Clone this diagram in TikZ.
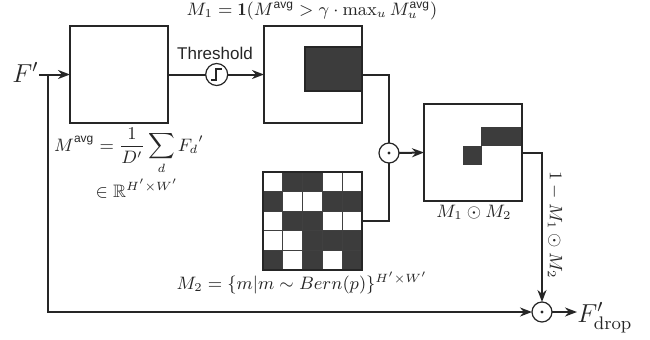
\RequirePackage{fix-cm}
\documentclass[tikz,border=0pt]{standalone}
\usepackage{amsmath,amssymb}
\usepackage{fontspec}
\newfontfamily\thrfont{Liberation Sans}
\usetikzlibrary{arrows.meta}
\definecolor{ln}{HTML}{262626}
\definecolor{dk}{HTML}{3C3C3C}
\newcommand{\avg}{\text{\thrfont avg}}
\begin{document}
\begin{tikzpicture}[x=0.5pt,y=-0.5pt,
  box/.style={draw=ln, line width=1pt, fill=white, inner sep=0pt, outer sep=0pt, minimum width=49pt, minimum height=48.5pt},
  conn/.style={draw=ln, line width=1pt},
  arr/.style={conn, -{Stealth[length=6pt,width=4.5pt]}},
  opc/.style={circle, draw=ln, line width=0.6pt, minimum size=10pt, inner sep=0pt, outer sep=0pt, fill=white},
  lbl/.style={font=\fontsize{9}{11}\selectfont, inner sep=0pt, text=ln},
  big/.style={font=\fontsize{13}{15}\selectfont, inner sep=0pt, text=ln},
  darkcell/.style={fill=dk, draw=dk, line width=0.4pt}]
\useasboundingbox (0,0) rectangle (650,339);

% boxes
\node[box] (b1) at (119,74.5) {};
\node[box] (b2) at (313,74.5) {};
\filldraw[darkcell, draw=ln, line width=0.6pt] (305,47) rectangle (362,91);
\draw[line width=1pt, draw=ln] (b2.north west) rectangle (b2.south east);
\node[box] (b3) at (473,152.5) {};
\fill[dk] (481,127) rectangle (522,146);
\fill[dk] (463,146) rectangle (482,165);
\draw[line width=1pt, draw=ln] (b3.north west) rectangle (b3.south east);

% random grid
\node[box, draw=none, minimum width=49.5pt, minimum height=49pt] (grid) at (312.5,221) {};
\foreach \c/\r in {1/0,2/0,0/1,3/1,4/1,1/2,2/2,2/3,3/3,4/3,0/4,2/4,4/4}
  \fill[dk] (263+\c*19.8,172+\r*19.6) rectangle ++(19.8,19.6);
\foreach \k in {1,2,3,4} {
  \draw[black!75, line width=0.45pt] (263+\k*19.8,172) -- (263+\k*19.8,270);
  \draw[black!75, line width=0.45pt] (263,172+\k*19.6) -- (362,172+\k*19.6);
}
\draw[line width=1.2pt, draw=ln] (grid.north west) rectangle (grid.south east);

% operator circles
\node[opc, minimum size=11pt] (th) at (216.7,74.5) {};
\draw[line width=0.8pt, draw=ln] ([shift={(-2.6pt,-2.6pt)}]th.center) -- ++(2.3pt,0pt) -- ++(0pt,5.4pt) -- ++(2.9pt,0pt);
\node[opc] (o1) at (389,153) {};
\fill[ln] (o1.center) circle (1.6);
\node[opc] (o2) at (542,312) {};
\fill[ln] (o2.center) circle (1.6);

% texts
\node[big, anchor=base west] (Fp) at (12,82) {$F'$};
\node[big, anchor=base west] (drop) at (577,322) {$F'_{\mathrm{drop}}$};
\node[font=\thrfont\fontsize{8.5}{10}\selectfont, text=ln, inner sep=0pt] (thl) at (215,53) {Threshold};
\node[lbl] (m1) at (312,11) {$M_1=\mathbf{1}(M^{\avg}>\gamma\cdot\max\nolimits_u M_u^{\avg})$};
\node[lbl] (mavg) at (129,151) {$\displaystyle M^{\avg}=\frac{1}{D'}\sum_d F_d{}'$};
\node[lbl] (inR) at (137,189) {$\in\mathbb{R}^{H'\times W'}$};
\node[lbl] (m2) at (302,283) {$M_2=\{m|m\sim Bern(p)\}^{H'\times W'}$};
\node[lbl] (m12) at (474,212) {$M_1\odot M_2$};
\node[lbl, rotate=-90] (inv) at (555,225) {$1-M_1\odot M_2$};

% connectors
\coordinate (br) at (48,74.5);
\draw[arr] (Fp.east |- b1.west) -- (b1.west);
\draw[arr] (br) |- (o2.west);
\draw[conn] (b1.east) -- (th.west);
\draw[arr] (th.east) -- (b2.west);
\draw[conn] (b2.east) -| (o1.north);
\draw[conn] (grid.east) -| (o1.south);
\draw[arr] (o1.east) -- (b3.west);
\draw[arr] (b3.east) -| (o2.north);
\draw[arr] (o2.east) -- (o2.east -| drop.west);
\end{tikzpicture}
\end{document}
